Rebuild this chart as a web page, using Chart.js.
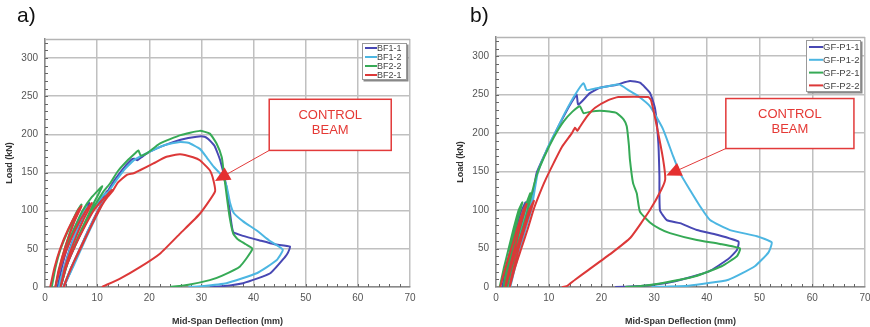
<!DOCTYPE html>
<html><head><meta charset="utf-8">
<script src="https://cdn.jsdelivr.net/npm/chart.js@4.4.1/dist/chart.umd.min.js"></script>
<style>
html,body{margin:0;padding:0;background:#fff;}
#wrap{position:relative;width:870px;height:327px;overflow:hidden;background:#fff;}
.panel{position:absolute;top:0;height:327px;}
.lbl{position:absolute;top:3px;font:21px "Liberation Sans",Arial,sans-serif;line-height:23px;color:#111;}
</style></head><body>
<div id="wrap">
  <div class="panel" style="left:0;width:435px"><canvas id="ca" width="435" height="327"></canvas></div>
  <div class="panel" style="left:435px;width:445px"><canvas id="cb" width="445" height="327"></canvas></div>
  <div class="lbl" style="left:17px">a)</div>
  <div class="lbl" style="left:470px">b)</div>
</div>
<script>
// ---------- data ----------
const xTicks = [0,10,20,30,40,50,60,70];
const yTicks = [0,50,100,150,200,250,300];
const xTitle = 'Mid-Span Deflection (mm)';
const yTitle = 'Load (kN)';
const calloutText = ['CONTROL','BEAM'];

const namesA = ['BF1-1','BF1-2','BF2-2','BF2-1'];
const namesB = ['GF-P1-1','GF-P1-2','GF-P2-1','GF-P2-2'];

// [deflection (mm), load (kN)]
const BF1_1 = [[2.4,0],[3.2,25],[4.2,50],[5.7,75],[7.5,100],[8.5,110],[7,88],[5,55],[3.5,20],[3,0],
 [4,25],[5.5,50],[7.2,75],[9.2,100],[11,118],[12,126],[10.5,105],[8,70],[5.5,30],[3.6,0],
 [5,25],[6.8,50],[8.7,80],[10.5,105],[12.5,131],[14.5,151],[16.6,167],[17.2,168],[17.7,166],[18.5,170],[20,177],[23,186],[26,193],[29.1,197],[30.6,197],[31.3,194],[32.5,185],[33.6,166],[34.8,131],[35.5,96],[36.1,72],[38,67],[41.2,61],[44,56],[47,53],[46.6,45],[46,39],[43.2,18],[38,5],[34,1],[31.6,0]];
const BF1_2 = [[2,0],[2.9,25],[4,50],[5.5,75],[7.3,100],[8,106],[6.5,82],[4.6,45],[3,10],[2.7,0],
 [3.8,25],[5.3,50],[7,75],[9,100],[11,119],[12,124],[10.5,102],[8,66],[5.5,28],[3.5,0],
 [5,25],[6.8,52],[8.7,80],[10.5,104],[12.5,128],[15,152],[17,166],[20,177],[23,186],[25.9,190],[27.5,189],[29.7,181],[31,170],[32.3,158],[33.9,146],[34.8,133],[35.5,110],[36.2,97],[38,86],[40.6,74],[43,61],[45.6,49],[44.4,35],[40.6,18],[34.8,5],[30,1],[27.5,0]];
const BF2_2 = [[1.3,0],[2,25],[3,50],[4.5,75],[6.2,100],[7,108],[5.5,85],[4,55],[2.8,25],[2,0],
 [2.8,25],[4,50],[5.5,75],[7.2,100],[9,118],[11,132],[9.5,112],[7,75],[4.5,35],[3,0],
 [4.5,35],[5.5,50],[7.5,80],[9.5,106],[11.2,125],[12.5,136],[14,152],[16,167],[17.4,176],[17.9,179],[18.4,172],[19.5,175],[22,188],[26,199],[29.7,204.6],[31.6,201],[32.9,188],[33.9,170],[34.3,149],[34.8,122],[35.4,92],[36.1,70],[36.9,63],[38.5,56],[39.8,50],[37.4,27],[34,15],[31.6,9],[27.5,3],[24,0]];
const BF2_1 = [[1,0],[1.8,25],[2.9,50],[4.4,75],[6.3,100],[7,106],[5.6,85],[4,55],[2.6,22],[2,0],
 [2.9,25],[4.2,50],[5.8,75],[7.8,100],[9,110],[7.5,90],[5.5,58],[3.8,25],[3,0],
 [4,25],[5.5,50],[7.3,75],[9.3,100],[11,114],[12.8,127],[11,108],[8.5,75],[6,40],[4,8],[3.6,0],
 [5,25],[6.8,50],[8.5,75],[10.2,100],[12,118],[13,126],[14,137],[15.7,147],[17,149],[18.2,153],[20.8,162],[23.3,170.6],[25.9,174],[28.4,170],[29.7,166],[31.6,153],[32.3,140],[32.6,125],[29.7,96],[25.9,70],[22.1,44],[18.2,26],[14.4,11],[11.2,1],[10.9,0]];

const GF_P1_1 = [[1.2,0],[1.9,25],[2.8,50],[3.8,75],[4.9,100],[5.6,110],[4.6,85],[3.4,50],[2.3,15],[2,0],
 [2.8,25],[3.7,50],[4.7,75],[5.8,100],[7,122],[5.8,95],[4.2,55],[2.9,15],[2.5,0],
 [3.4,25],[4.4,50],[5.4,75],[6.5,100],[7.7,148],[9.5,176],[11.2,200],[13,224],[14.5,242],[15.3,250],[15.6,237],[17.8,252],[19.7,259],[22.9,263],[25.4,267.7],[27.3,265.6],[29.2,252.5],[30.2,231],[30.8,187],[31,144],[31.1,100],[32.4,87],[34.9,83],[38.1,74],[41.9,68],[46,59],[45.7,48],[44,36],[40.3,20],[34,7.4],[30,3],[26.4,1],[22.6,0]];
const GF_P1_2 = [[1.5,0],[2.2,25],[3.1,50],[4.1,75],[5.2,100],[5.9,108],[4.9,82],[3.6,45],[2.5,10],[2.2,0],
 [3,25],[3.9,50],[4.9,75],[6,100],[7.2,122],[6,95],[4.4,55],[3.1,15],[2.7,0],
 [3.6,25],[4.6,50],[5.6,75],[6.7,100],[7.9,148],[9.6,178],[11.4,203],[13.2,228],[15,250],[16.6,265],[17.2,256],[18.8,258],[20.5,260],[22.6,263],[23.5,263],[25.1,256],[27,248],[29.2,235],[31.7,205],[33.6,170],[34.9,148],[36.8,126],[38.7,105],[40.6,87],[44.4,74],[49.5,66],[52.3,58],[51.7,45],[49.1,27],[44.1,9.5],[36.5,1.7],[29.5,0]];
const GF_P2_1 = [[0.7,0],[1.5,25],[2.4,50],[3.3,75],[4.3,100],[5,110],[4,85],[2.8,50],[1.8,15],[1.5,0],
 [2.3,25],[3.2,50],[4.2,75],[5.3,100],[6.5,122],[5.3,95],[3.8,55],[2.5,15],[2.1,0],
 [3,25],[4,50],[5,75],[6,100],[6.8,122],[7.7,145],[9.2,170],[11,195],[12.8,215],[14.5,228],[15.9,235],[16.6,226],[18,228],[19.7,229],[21.5,228],[22.9,226],[24.2,218],[24.8,209],[25.2,185],[25.4,166],[26,135],[26.7,122],[27.3,98],[29.2,84],[31,76],[33,70],[38.1,61],[42.5,56],[46.3,50],[45.7,40],[42.8,27],[37.8,14],[31.4,5],[27,1],[24.5,0]];
const GF_P2_2 = [[0.8,0],[1.8,25],[2.9,50],[4,75],[5.2,100],[5.8,108],[4.6,80],[3.2,42],[2,8],[1.8,0],
 [2.8,25],[3.9,50],[5,72],[6.3,100],[7.2,112],[6,88],[4.3,50],[3,15],[2.6,0],
 [3.6,25],[4.8,50],[6,75],[7.1,100],[8.2,120],[9.3,138],[11,162],[12.5,182],[14.4,200],[15,207],[15.4,203],[15.9,208],[17.3,222],[18.8,233],[21.3,243],[23.2,247],[28.9,247],[29.4,243],[30.5,209],[31.7,166],[32.1,140],[31.4,127],[29.2,100],[25.5,64],[21.9,44],[17.5,22],[15,9.5],[13.4,1],[12.5,0]];

// callout positions in data units: box [x0,y0,x1,y1], arrow tip [x,y]
const calloutA = {box:[43,246,66.4,179], tip:[32.6,139]};
const calloutB = {box:[43.6,245,67.9,180], tip:[32.3,145]};

// ---------- styles ----------
const COLORS = ['#4848b4','#4cb6e2','#36aa56','#dc3838'];
const FONT = '"Liberation Sans", Arial, sans-serif';

function framePlugin(legendCfg, callout) {
  return {
    id: 'frame',
    beforeDatasetsDraw(chart) {
      const {ctx, chartArea: a, scales: {x, y}} = chart;
      ctx.save();
      ctx.strokeStyle = '#b4b4b4'; ctx.lineWidth = 1.5;
      ctx.beginPath(); ctx.moveTo(a.left, a.top + 0.5); ctx.lineTo(a.right, a.top + 0.5); ctx.stroke();
      ctx.strokeStyle = '#666'; ctx.lineWidth = 1;
      for (let v = 2; v < 70; v += 2) {
        const px = Math.round(x.getPixelForValue(v)) + 0.5;
        ctx.beginPath(); ctx.moveTo(px, a.bottom); ctx.lineTo(px, a.bottom - 3); ctx.stroke();
      }
      for (let v = 10; v <= 320; v += 10) {
        const py = Math.round(y.getPixelForValue(v)) + 0.5;
        ctx.beginPath(); ctx.moveTo(a.left, py); ctx.lineTo(a.left + 3, py); ctx.stroke();
      }
      ctx.restore();
    },
    afterDraw(chart) {
      const {ctx, chartArea: a, scales: {x, y}} = chart;
      ctx.save();
      const L = legendCfg;
      const lx = a.right - L.dr - L.w, ly = a.top + L.dt;
      ctx.fillStyle = '#888';
      ctx.fillRect(lx + 1.5, ly + 1.5, L.w, L.h);
      ctx.fillStyle = '#fff';
      ctx.fillRect(lx, ly, L.w, L.h);
      ctx.strokeStyle = '#9a9a9a'; ctx.lineWidth = 1;
      ctx.strokeRect(lx + 0.5, ly + 0.5, L.w - 1, L.h - 1);
      ctx.font = L.font + 'px ' + FONT;
      ctx.textBaseline = 'middle'; ctx.textAlign = 'left';
      chart.data.datasets.forEach((d, i) => {
        const ry = ly + L.first + i * L.row;
        ctx.strokeStyle = d.borderColor; ctx.lineWidth = 2;
        ctx.beginPath(); ctx.moveTo(lx + 3, ry); ctx.lineTo(lx + 3 + L.line, ry); ctx.stroke();
        ctx.fillStyle = '#444';
        ctx.fillText(d.label, lx + 3 + L.line, ry + 0.5);
      });
      const c = callout;
      const bx0 = x.getPixelForValue(c.box[0]), by0 = y.getPixelForValue(c.box[1]);
      const bx1 = x.getPixelForValue(c.box[2]), by1 = y.getPixelForValue(c.box[3]);
      ctx.fillStyle = '#fff';
      ctx.fillRect(bx0, by0, bx1 - bx0, by1 - by0);
      ctx.strokeStyle = '#e23a3a'; ctx.lineWidth = 1.5;
      ctx.strokeRect(bx0, by0, bx1 - bx0, by1 - by0);
      ctx.fillStyle = '#e53935';
      ctx.font = '13px ' + FONT; ctx.textAlign = 'center'; ctx.textBaseline = 'middle';
      const cx = (bx0 + bx1) / 2, cy = (by0 + by1) / 2;
      ctx.fillText(calloutText[0], cx, cy - 9);
      ctx.fillText(calloutText[1], cx, cy + 6);
      const tx = x.getPixelForValue(c.tip[0]), ty = y.getPixelForValue(c.tip[1]);
      const ang = Math.atan2(ty - by1, tx - bx0);
      ctx.strokeStyle = '#e23a3a'; ctx.lineWidth = 1;
      ctx.beginPath(); ctx.moveTo(bx0, by1); ctx.lineTo(tx - 10 * Math.cos(ang), ty - 10 * Math.sin(ang)); ctx.stroke();
      const len = 15, hw = 7;
      const bxp = tx - len * Math.cos(ang), byp = ty - len * Math.sin(ang);
      ctx.fillStyle = '#e53030';
      ctx.beginPath();
      ctx.moveTo(tx, ty);
      ctx.lineTo(bxp + hw * Math.sin(ang), byp - hw * Math.cos(ang));
      ctx.lineTo(bxp - hw * Math.sin(ang), byp + hw * Math.cos(ang));
      ctx.closePath(); ctx.fill();
      ctx.restore();
    }
  };
}

function makeChart(id, names, series, o) {
  const datasets = series.map((pts, i) => ({
    label: names[i],
    data: pts.map(p => ({x: p[0], y: p[1]})),
    borderColor: COLORS[i], backgroundColor: COLORS[i],
    borderWidth: 2, pointRadius: 0, showLine: true, tension: 0.15, fill: false,
    order: series.length - i
  }));
  return new Chart(document.getElementById(id), {
    type: 'scatter',
    data: {datasets},
    options: {
      responsive: false, animation: false, events: [],
      layout: {padding: {left: 0, right: o.padRight, top: o.padTop, bottom: 0}},
      plugins: {legend: {display: false}, tooltip: {enabled: false}, title: {display: false}},
      scales: {
        x: {
          type: 'linear', min: 0, max: 70,
          afterBuildTicks: s => { s.ticks = xTicks.map(v => ({value: v})); },
          afterFit: s => { s.height = 40; },
          grid: {color: '#c0c0c0', lineWidth: 1.5, drawTicks: false},
          border: {display: true, color: '#8a8a8a', width: 1.5},
          ticks: {padding: 5, color: '#555', font: {family: FONT, size: 10}, maxRotation: 0},
          title: {display: true, text: xTitle, color: '#333', font: {family: FONT, size: 9, weight: 'bold'}, padding: {top: 5, bottom: 0}}
        },
        y: {
          type: 'linear', min: 0, max: 325,
          afterBuildTicks: s => { s.ticks = yTicks.map(v => ({value: v})); },
          afterFit: s => { s.width = o.yWidth; },
          grid: {color: '#c0c0c0', lineWidth: 1.5, drawTicks: false},
          border: {display: true, color: '#8a8a8a', width: 1.5},
          ticks: {padding: 7, color: '#555', font: {family: FONT, size: 10}},
          title: {display: true, text: yTitle, color: '#333', font: {family: FONT, size: 9, weight: 'bold'}, padding: {top: o.yTitlePad, bottom: 0}}
        }
      }
    },
    plugins: [framePlugin(o.legend, o.callout)]
  });
}

makeChart('ca', namesA, [BF1_1, BF1_2, BF2_2, BF2_1], {
  padRight: 25, padTop: 39, yWidth: 45, yTitlePad: 4,
  legend: {dr: 3, dt: 4, w: 45, h: 37, row: 9, first: 5, line: 12, font: 9},
  callout: calloutA
});
makeChart('cb', namesB, [GF_P1_1, GF_P1_2, GF_P2_1, GF_P2_2], {
  padRight: 15, padTop: 37, yWidth: 61, yTitlePad: 20,
  legend: {dr: 4, dt: 3, w: 55, h: 52, row: 12.8, first: 7, line: 14, font: 9.5},
  callout: calloutB
});
</script>
</body></html>
